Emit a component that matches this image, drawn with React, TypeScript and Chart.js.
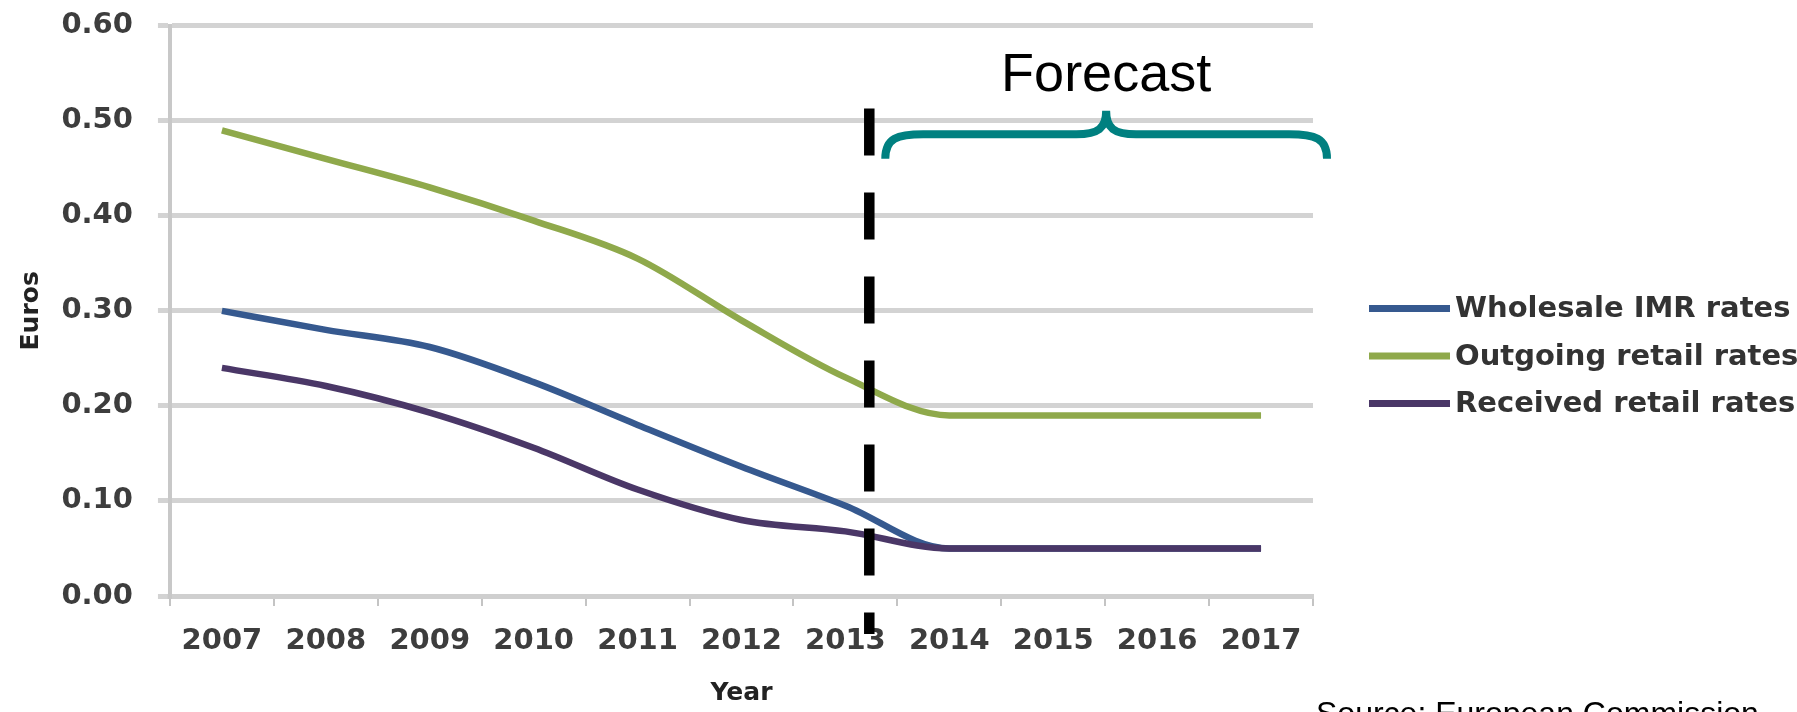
import React, { useEffect, useRef } from "react";
import { Chart, registerables } from "chart.js";

Chart.register(...registerables);

// ---- data ----
const YEARS = ["2007", "2008", "2009", "2010", "2011", "2012", "2013", "2014", "2015", "2016", "2017"];
const WHOLESALE_IMR = [0.3, 0.28, 0.262, 0.225, 0.18, 0.136, 0.095, 0.05, 0.05, 0.05, 0.05];
const OUTGOING_RETAIL = [0.49, 0.46, 0.43, 0.395, 0.355, 0.29, 0.23, 0.19, 0.19, 0.19, 0.19];
const RECEIVED_RETAIL = [0.24, 0.221, 0.193, 0.156, 0.112, 0.08, 0.068, 0.05, 0.05, 0.05, 0.05];
const SERIES_NAMES = ["Wholesale IMR rates", "Outgoing retail rates", "Received retail rates"];
const SERIES_COLORS = ["#36598f", "#8fa94b", "#4a3767"];
const Y_MIN = 0;
const Y_MAX = 0.6;
const Y_STEP = 0.1;
const Y_TITLE = "Euros";
const X_TITLE = "Year";
const FORECAST_LABEL = "Forecast";
const SOURCE_LABEL = "Source: European Commission";
// category position (between 2013 and 2014) where the forecast divider sits
const FORECAST_SPLIT = 6.23;
const DIVIDER_TOP_VALUE = 0.513;
const DIVIDER_BOTTOM_VALUE = -0.04;

const BOLD_FAMILY = '"DejaVu Sans", sans-serif';
const TICK_FONT = { family: BOLD_FAMILY, weight: "bold" as const, size: 29 };

const overlayPlugin = {
  id: "forecastOverlay",
  afterDraw(chart: any) {
    const { ctx } = chart;
    const x = chart.scales.x;
    const y = chart.scales.y;
    const sx = x.getPixelForValue(FORECAST_SPLIT);
    ctx.save();
    // dashed divider
    ctx.strokeStyle = "#000000";
    ctx.lineWidth = 10.5;
    ctx.setLineDash([47, 37]);
    ctx.beginPath();
    ctx.moveTo(sx, y.getPixelForValue(DIVIDER_TOP_VALUE));
    ctx.lineTo(sx, y.getPixelForValue(DIVIDER_BOTTOM_VALUE));
    ctx.stroke();
    ctx.setLineDash([]);

    // curly brace
    const xl = sx + 16;
    const xr = x.right + 14;
    const mid = (xl + xr) / 2;
    const base = y.getPixelForValue(0.5);
    const bar = base + 13.5;
    const tip = base + 38;
    const peak = base - 10;
    ctx.strokeStyle = "#008080";
    ctx.lineWidth = 8;
    ctx.lineCap = "butt";
    ctx.beginPath();
    ctx.moveTo(xl, tip);
    ctx.bezierCurveTo(xl, bar + 4, xl + 12, bar, xl + 38, bar);
    ctx.lineTo(mid - 30, bar);
    ctx.bezierCurveTo(mid - 8, bar, mid, bar - 6, mid, peak);
    ctx.bezierCurveTo(mid, bar - 6, mid + 8, bar, mid + 30, bar);
    ctx.lineTo(xr - 38, bar);
    ctx.bezierCurveTo(xr - 12, bar, xr, bar + 4, xr, tip);
    ctx.stroke();

    // Forecast label
    ctx.fillStyle = "#000000";
    ctx.font = '54px "Liberation Sans", Arial, sans-serif';
    ctx.textAlign = "center";
    ctx.textBaseline = "alphabetic";
    ctx.fillText(FORECAST_LABEL, mid, base - 30);

    // legend (drawn from the datasets)
    const ds = chart.data.datasets;
    const rowGap = 47.5;
    const cy = chart.height / 2;
    const lx = x.right + 56;
    ctx.font = `bold 29px ${BOLD_FAMILY}`;
    ctx.textAlign = "left";
    ctx.textBaseline = "middle";
    ds.forEach((d: any, i: number) => {
      const ry = cy + (i - (ds.length - 1) / 2) * rowGap;
      ctx.strokeStyle = d.borderColor;
      ctx.lineWidth = 7;
      ctx.beginPath();
      ctx.moveTo(lx, ry);
      ctx.lineTo(lx + 81, ry);
      ctx.stroke();
      ctx.fillStyle = "#333333";
      ctx.fillText(d.label, lx + 86, ry + 1);
    });

    // source note (partly cut at the bottom edge)
    ctx.fillStyle = "#000000";
    ctx.font = '32px "Liberation Sans", Arial, sans-serif';
    ctx.textAlign = "left";
    ctx.textBaseline = "alphabetic";
    ctx.fillText(SOURCE_LABEL, x.right + 3, chart.height + 12);
    ctx.restore();
  },
};

export default function App() {
  const canvasRef = useRef<HTMLCanvasElement | null>(null);

  useEffect(() => {
    if (!canvasRef.current) return;
    const seriesValues = [WHOLESALE_IMR, OUTGOING_RETAIL, RECEIVED_RETAIL];
    const drawOrder = [2, 1, 0];
    const chart = new Chart(canvasRef.current, {
      type: "line",
      data: {
        labels: YEARS,
        datasets: seriesValues.map((vals, i) => ({
          label: SERIES_NAMES[i],
          data: vals,
          borderColor: SERIES_COLORS[i],
          backgroundColor: SERIES_COLORS[i],
          borderWidth: 6.5,
          pointRadius: 0,
          pointHoverRadius: 0,
          cubicInterpolationMode: "monotone" as const,
          borderJoinStyle: "round" as const,
          fill: false,
          order: drawOrder[i],
        })),
      },
      options: {
        responsive: false,
        maintainAspectRatio: false,
        animation: false,
        devicePixelRatio: 1,
        layout: { padding: { top: 25, right: 484, left: 0, bottom: 0 } },
        plugins: {
          tooltip: { enabled: false },
          legend: { display: false },
        },
        scales: {
          x: {
            type: "category",
            offset: true,
            grid: {
              display: true,
              drawOnChartArea: false,
              drawTicks: true,
              tickLength: 10,
              color: "#c4c4c4",
              lineWidth: 2,
              offset: true,
            },
            border: { display: true, color: "#cfcfcf", width: 5 },
            ticks: { font: TICK_FONT, color: "#3d3d3d", padding: 17.6, maxRotation: 0, autoSkip: false },
            title: {
              display: true,
              text: X_TITLE,
              font: { family: BOLD_FAMILY, weight: "bold", size: 25 },
              color: "#222222",
              padding: { top: 2, bottom: 4 },
            },
          },
          y: {
            type: "linear",
            min: Y_MIN,
            max: Y_MAX,
            ticks: {
              stepSize: Y_STEP,
              font: { ...TICK_FONT, lineHeight: 0.05 },
              color: "#3d3d3d",
              padding: 25,
              callback: (v: any) => Number(v).toFixed(2),
            },
            grid: { color: "#d3d3d3", lineWidth: 5, tickLength: 12, drawTicks: true },
            border: { display: true, color: "#c8c8c8", width: 4 },
            title: {
              display: true,
              text: Y_TITLE,
              font: { family: BOLD_FAMILY, weight: "bold", size: 25 },
              color: "#222222",
              padding: { top: 16, bottom: -9.6 },
            },
          },
        },
      },
      plugins: [overlayPlugin],
    } as any);
    return () => chart.destroy();
  }, []);

  return (
    <div
      style={{
        position: "absolute",
        left: 0,
        top: 0,
        width: 1797,
        height: 712,
        overflow: "hidden",
        background: "#ffffff",
      }}
    >
      <canvas ref={canvasRef} width={1797} height={712} style={{ width: 1797, height: 712 }} />
    </div>
  );
}
